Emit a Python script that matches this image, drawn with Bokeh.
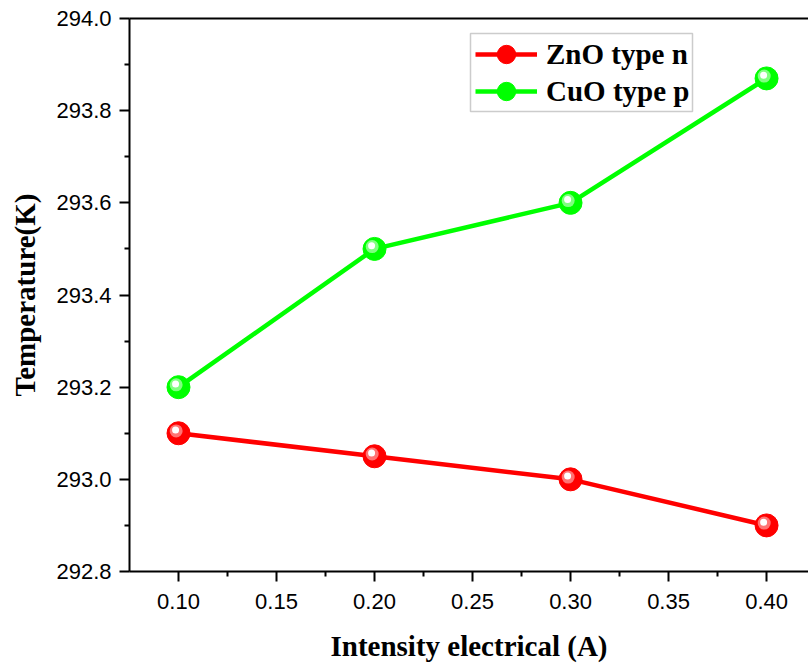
from bokeh.plotting import figure
from bokeh.models import (Range1d, LinearAxis, Legend, LegendItem, FixedTicker,
                          ColumnDataSource, PrintfTickFormatter, BoxAnnotation)
from bokeh.transform import dodge
from bokeh.embed import file_html
from bokeh.resources import INLINE

current = [0.10, 0.20, 0.30, 0.40]
zno_temp = [293.10, 293.05, 293.00, 292.90]
cuo_temp = [293.20, 293.50, 293.60, 293.87]
x_ticks = [0.10, 0.15, 0.20, 0.25, 0.30, 0.35, 0.40]
y_ticks = [292.8, 293.0, 293.2, 293.4, 293.6, 293.8, 294.0]

p = figure(width=808, height=664, output_backend="svg", toolbar_location=None,
           x_range=Range1d(0.075, 0.4214), y_range=Range1d(292.8, 294.0),
           min_border_left=129, min_border_right=0, min_border_top=18, min_border_bottom=92)
p.outline_line_color = None
p.xgrid.visible = False
p.ygrid.visible = False
p.background_fill_color = "white"
p.border_fill_color = "white"

def style_axis(ax, ticks):
    ax.ticker = FixedTicker(ticks=ticks, minor_ticks=[
        round(t + (ticks[1] - ticks[0]) / 2, 4) for t in ticks])
    ax.axis_line_width = 2
    ax.major_tick_line_width = 2
    ax.minor_tick_line_width = 2
    ax.major_tick_out = 10
    ax.major_tick_in = 0
    ax.minor_tick_out = 5
    ax.minor_tick_in = 0
    ax.major_label_text_font = "Liberation Sans"
    ax.major_label_text_font_size = "22px"
    ax.major_label_text_color = "black"
    ax.axis_label_text_font = "Liberation Serif"
    ax.axis_label_text_font_style = "bold"
    ax.axis_label_text_font_size = "29px"
    ax.axis_label_text_color = "black"

style_axis(p.xaxis[0], x_ticks)
style_axis(p.yaxis[0], y_ticks)
p.xaxis[0].formatter = PrintfTickFormatter(format="%.2f")
p.yaxis[0].formatter = PrintfTickFormatter(format="%.1f")
p.xaxis[0].axis_label = "Intensity electrical (A)"
p.yaxis[0].axis_label = "Temperature(K)"
p.xaxis[0].major_label_standoff = 12
p.xaxis[0].axis_label_standoff = 18
p.yaxis[0].major_label_standoff = 8
p.yaxis[0].axis_label_standoff = 12

top = LinearAxis(ticker=FixedTicker(ticks=[], minor_ticks=[]),
                 major_tick_line_color=None, minor_tick_line_color=None,
                 axis_line_width=2)
p.add_layout(top, "above")

src = ColumnDataSource(dict(x=current, zno=zno_temp, cuo=cuo_temp))

def series(col, base, mid, name):
    ln = p.line("x", col, source=src, line_color=base, line_width=4.5)
    sc = p.scatter("x", col, source=src, size=23, fill_color=base, line_color=base)
    p.scatter(dodge("x", -0.0012, range=p.x_range), dodge(col, 0.005, range=p.y_range),
              source=src, size=13, fill_color=mid, line_color=None, fill_alpha=0.8)
    p.scatter(dodge("x", -0.0015, range=p.x_range), dodge(col, 0.007, range=p.y_range),
              source=src, size=7, fill_color="white", line_color=None)
    return LegendItem(label=name, renderers=[ln, sc])

items = [series("zno", "#ff0000", "#ff9090", "ZnO type n"),
         series("cuo", "#00ff00", "#a0ffa0", "CuO type p")]

box = BoxAnnotation(left=341, right=563, bottom=460, top=538,
                    left_units="screen", right_units="screen",
                    top_units="screen", bottom_units="screen",
                    fill_color="white", fill_alpha=1,
                    line_color="#555555", line_width=1.5)
p.add_layout(box)

for item, ypos in zip(items, [494, 457]):
    lg = Legend(items=[item], location=(346, ypos))
    lg.label_text_font = "Liberation Serif"
    lg.label_text_font_style = "bold"
    lg.label_text_font_size = "29px"
    lg.label_text_color = "black"
    lg.glyph_width = 62
    lg.glyph_height = 46
    lg.padding = 0
    lg.margin = 0
    lg.label_standoff = 9
    lg.border_line_color = None
    lg.background_fill_alpha = 0
    p.add_layout(lg, "center")

open("out.html", "w").write(file_html(p, INLINE))
